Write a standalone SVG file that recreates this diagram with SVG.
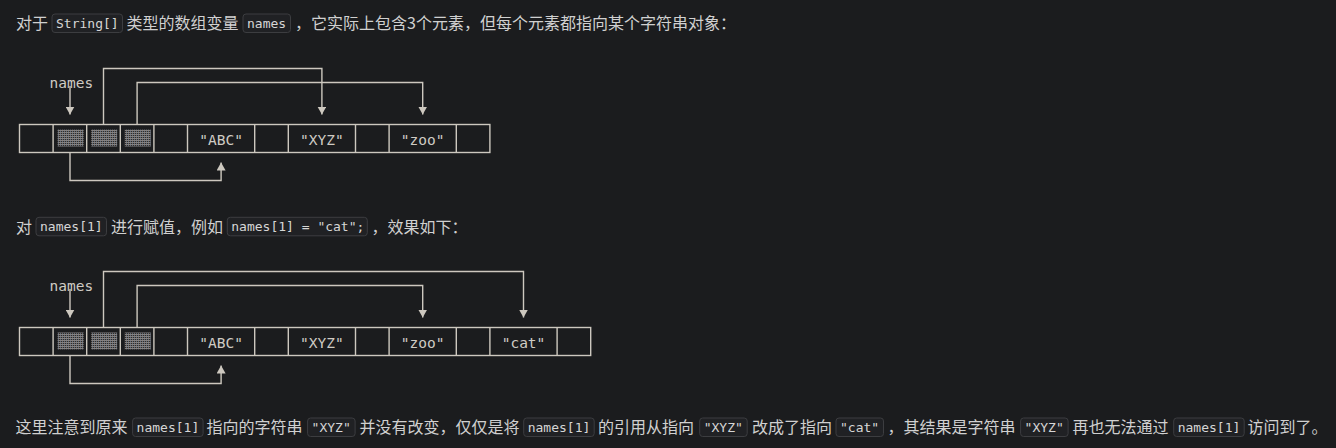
<svg xmlns="http://www.w3.org/2000/svg" width="1336" height="448" viewBox="0 0 1336 448">
<style>
.p{font-family:"Noto Sans CJK SC","Noto Sans",sans-serif;font-size:16px;fill:#d0d0d0}
.c{font-family:"DejaVu Sans Mono",monospace;font-size:13px;fill:#d6d6d6}
.cb{fill:#202124;stroke:#3c3d40;stroke-width:1}
.d{font-family:"DejaVu Sans Mono",monospace;font-size:14.5px;fill:#cfcbc4}
.cell{fill:none;stroke:#cdc8bf;stroke-width:1.4}
.ln{fill:none;stroke:#cdc8bf;stroke-width:1.4}
.h{fill:url(#hatch)}
</style>
<defs>
<pattern id="hatch" width="2" height="2" patternUnits="userSpaceOnUse">
<rect width="2" height="2" fill="#2e2c2c"/>
<rect width="2" height="1" fill="#8a8078"/>
<rect width="1" height="2" fill="#7a8490" opacity="0.7"/>
</pattern>
<marker id="ah" viewBox="0 0 8 9" markerWidth="8" markerHeight="9" refX="8" refY="4.5" orient="auto" markerUnits="userSpaceOnUse">
<path d="M0,0 L8,4.5 L0,9 z" fill="#cdc8bf"/>
</marker>
</defs>
<rect width="1336" height="448" fill="#1b1c1e"/>

<g id="para1">
<text class="p" x="16" y="29">对于</text>
<rect class="cb" x="52" y="14" width="70.5" height="18.5" rx="3"/>
<text class="c" x="56" y="27.5">String[]</text>
<text class="p" x="126.5" y="29">类型的数组变量</text>
<rect class="cb" x="243" y="14" width="47.5" height="18.5" rx="3"/>
<text class="c" x="247" y="27.5">names</text>
<text class="p" x="295" y="29">，它实际上包含3个元素，但每个元素都指向某个字符串对象：</text>
</g>

<g id="array1">
<rect class="cell" x="19.5" y="124.5" width="470.4" height="28"/>
<path class="cell" d="M53.1,124.5V152.5M86.7,124.5V152.5M120.3,124.5V152.5M153.9,124.5V152.5M187.5,124.5V152.5M254.7,124.5V152.5M288.3,124.5V152.5M355.5,124.5V152.5M389.1,124.5V152.5M456.3,124.5V152.5"/>
<rect class="h" x="57.6" y="129.5" width="26" height="17"/>
<rect class="h" x="91.2" y="129.5" width="26" height="17"/>
<rect class="h" x="124.8" y="129.5" width="26" height="17"/>
<text class="d" x="221.1" y="145" text-anchor="middle">"ABC"</text>
<text class="d" x="321.9" y="145" text-anchor="middle">"XYZ"</text>
<text class="d" x="422.7" y="145" text-anchor="middle">"zoo"</text>
</g>
<g id="names1">
<text class="d" x="49.5" y="88">names</text>
</g>

<g id="connectors1">
<path class="ln" d="M70,86V114.5" marker-end="url(#ah)"/>
<path class="ln" d="M103.5,124.5V68.5H321.9V114.5" marker-end="url(#ah)"/>
<path class="ln" d="M137.1,124.5V82.5H422.7V114.5" marker-end="url(#ah)"/>
<path class="ln" d="M70,152.5V180.5H221.1V162.5" marker-end="url(#ah)"/>
</g>

<g id="para2">
<text class="p" x="16" y="232.5">对</text>
<rect class="cb" x="36" y="217.3" width="70.5" height="18.5" rx="3"/>
<text class="c" x="40" y="230.8">names[1]</text>
<text class="p" x="111" y="232.5">进行赋值，例如</text>
<rect class="cb" x="227.3" y="217.3" width="140" height="18.5" rx="3"/>
<text class="c" x="231.3" y="230.8">names[1] = "cat";</text>
<text class="p" x="371.5" y="232.5">，效果如下：</text>
</g>

<g id="array2">
<rect class="cell" x="19.5" y="327.5" width="571.2" height="28"/>
<path class="cell" d="M53.1,327.5V355.5M86.7,327.5V355.5M120.3,327.5V355.5M153.9,327.5V355.5M187.5,327.5V355.5M254.7,327.5V355.5M288.3,327.5V355.5M355.5,327.5V355.5M389.1,327.5V355.5M456.3,327.5V355.5M489.9,327.5V355.5M557.1,327.5V355.5"/>
<rect class="h" x="57.6" y="332.5" width="26" height="17"/>
<rect class="h" x="91.2" y="332.5" width="26" height="17"/>
<rect class="h" x="124.8" y="332.5" width="26" height="17"/>
<text class="d" x="221.1" y="348" text-anchor="middle">"ABC"</text>
<text class="d" x="321.9" y="348" text-anchor="middle">"XYZ"</text>
<text class="d" x="422.7" y="348" text-anchor="middle">"zoo"</text>
<text class="d" x="523.5" y="348" text-anchor="middle">"cat"</text>
</g>
<g id="names2">
<text class="d" x="49.5" y="291">names</text>
</g>

<g id="connectors2">
<path class="ln" d="M70,289V317.5" marker-end="url(#ah)"/>
<path class="ln" d="M103.5,327.5V271.5H523.5V317.5" marker-end="url(#ah)"/>
<path class="ln" d="M137.1,327.5V285.5H422.7V317.5" marker-end="url(#ah)"/>
<path class="ln" d="M70,355.5V383.5H221.1V365.5" marker-end="url(#ah)"/>
</g>

<g id="para3">
<text class="p" x="15.5" y="433">这里注意到原来</text>
<rect class="cb" x="132.6" y="418" width="70.5" height="18.5" rx="3"/>
<text class="c" x="136.6" y="431.5">names[1]</text>
<text class="p" x="206.5" y="433">指向的字符串</text>
<rect class="cb" x="307.6" y="418" width="47.5" height="18.5" rx="3"/>
<text class="c" x="311.6" y="431.5">"XYZ"</text>
<text class="p" x="359.5" y="433">并没有改变，仅仅是将</text>
<rect class="cb" x="523.7" y="418" width="70.5" height="18.5" rx="3"/>
<text class="c" x="527.7" y="431.5">names[1]</text>
<text class="p" x="598" y="433">的引用从指向</text>
<rect class="cb" x="699.7" y="418" width="47.5" height="18.5" rx="3"/>
<text class="c" x="703.7" y="431.5">"XYZ"</text>
<text class="p" x="752" y="433">改成了指向</text>
<rect class="cb" x="836" y="418" width="47.5" height="18.5" rx="3"/>
<text class="c" x="840" y="431.5">"cat"</text>
<text class="p" x="887.5" y="433">，其结果是字符串</text>
<rect class="cb" x="1020.6" y="418" width="47.5" height="18.5" rx="3"/>
<text class="c" x="1024.6" y="431.5">"XYZ"</text>
<text class="p" x="1072.5" y="433">再也无法通过</text>
<rect class="cb" x="1173.7" y="418" width="70.5" height="18.5" rx="3"/>
<text class="c" x="1177.7" y="431.5">names[1]</text>
<text class="p" x="1247.5" y="433">访问到了。</text>
</g>
</svg>
